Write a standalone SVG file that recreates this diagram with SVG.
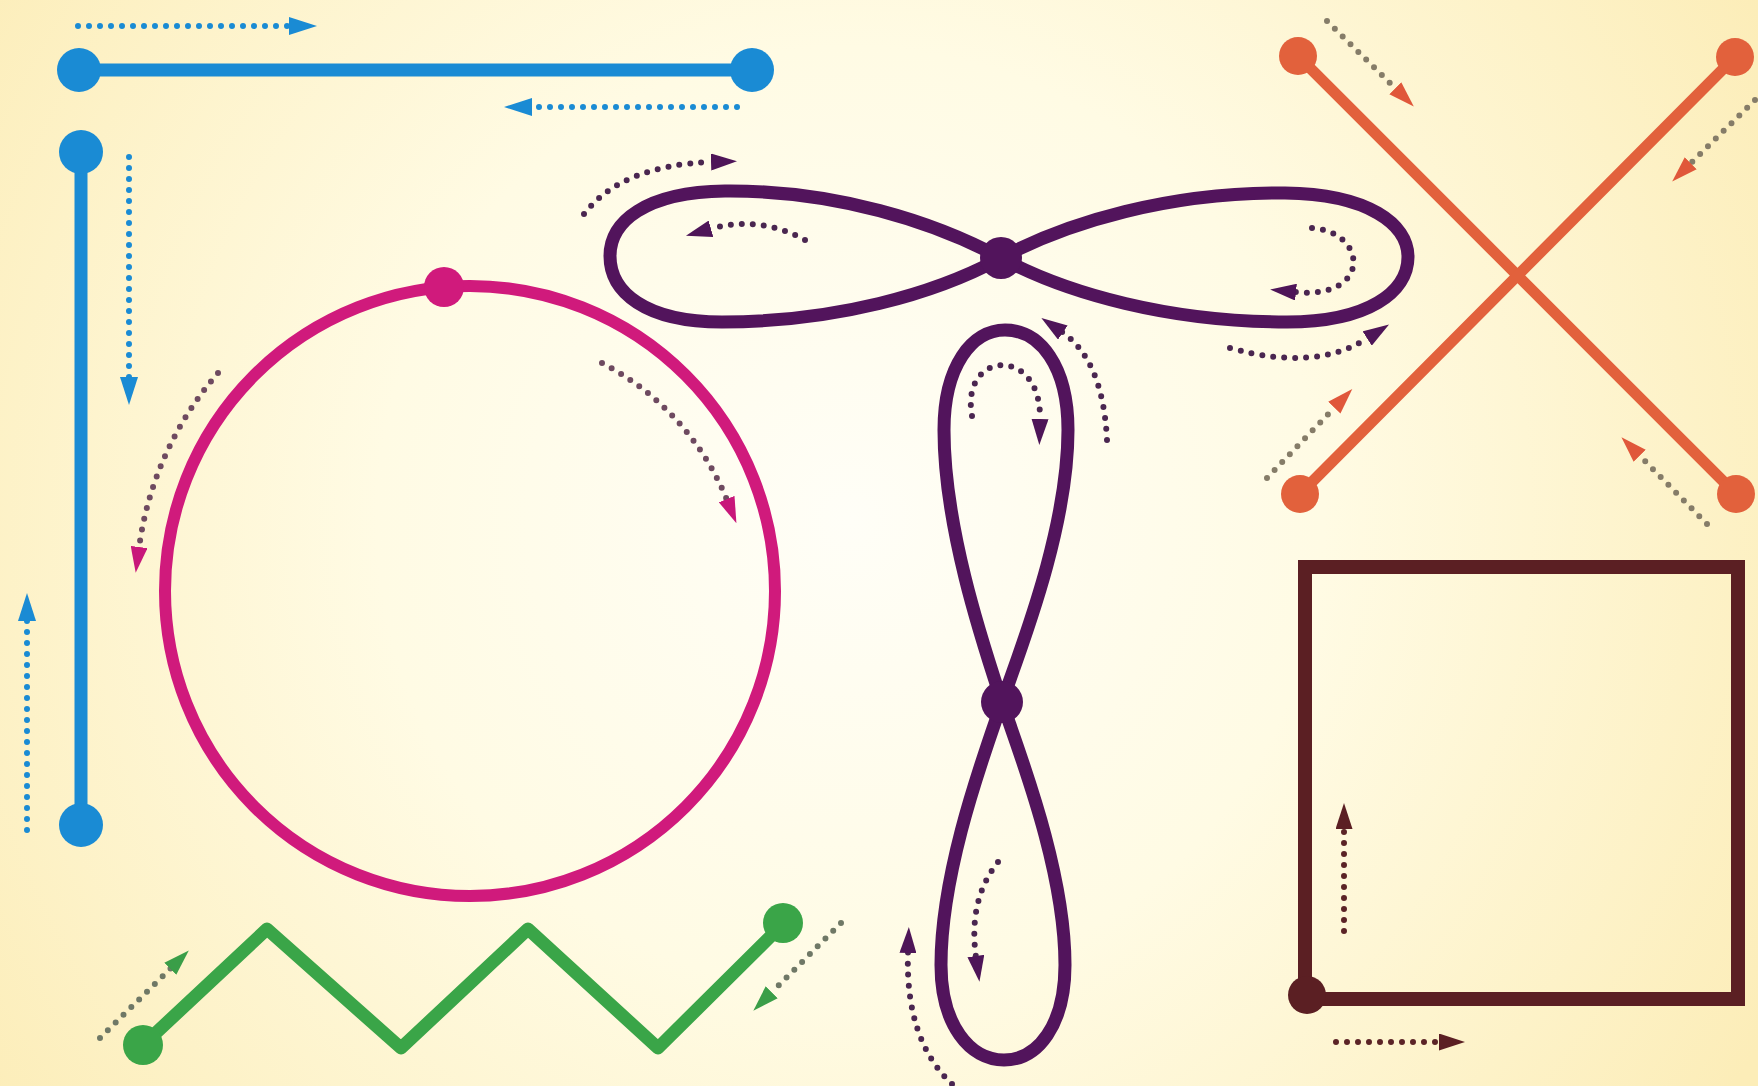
<svg xmlns="http://www.w3.org/2000/svg" width="1758" height="1086" viewBox="0 0 1758 1086">
<defs>
<radialGradient id="bg" gradientUnits="userSpaceOnUse" cx="850" cy="520" r="1050">
<stop offset="0" stop-color="#fffef7"/>
<stop offset="0.45" stop-color="#fffbe4"/>
<stop offset="1" stop-color="#fcedb8"/>
</radialGradient>
<marker id="mBlue" viewBox="0 0 28 18" refX="1" refY="9" markerWidth="28" markerHeight="18" markerUnits="userSpaceOnUse" orient="auto"><path d="M0,0 L28,9 L0,18 Z" fill="#1a8bd4"/></marker>
<marker id="mMag" viewBox="0 0 26 17" refX="1" refY="8.5" markerWidth="26" markerHeight="17" markerUnits="userSpaceOnUse" orient="auto"><path d="M0,0 L26,8.5 L0,17 Z" fill="#c8177a"/></marker>
<marker id="mPur" viewBox="0 0 26 17" refX="1" refY="8.5" markerWidth="26" markerHeight="17" markerUnits="userSpaceOnUse" orient="auto"><path d="M0,0 L26,8.5 L0,17 Z" fill="#4e1558"/></marker>
<marker id="mOra" viewBox="0 0 26 17" refX="1" refY="8.5" markerWidth="26" markerHeight="17" markerUnits="userSpaceOnUse" orient="auto"><path d="M0,0 L26,8.5 L0,17 Z" fill="#e0573a"/></marker>
<marker id="mGre" viewBox="0 0 26 17" refX="1" refY="8.5" markerWidth="26" markerHeight="17" markerUnits="userSpaceOnUse" orient="auto"><path d="M0,0 L26,8.5 L0,17 Z" fill="#3a9e48"/></marker>
<marker id="mBro" viewBox="0 0 26 17" refX="1" refY="8.5" markerWidth="26" markerHeight="17" markerUnits="userSpaceOnUse" orient="auto"><path d="M0,0 L26,8.5 L0,17 Z" fill="#5b1f23"/></marker>
</defs>
<style>
.dot{fill:none;stroke-width:6;stroke-dasharray:0 11;stroke-linecap:round}
.blue{stroke:#1a8bd4}
.mag{stroke:#6e4a60}
.pur{stroke:#4a2650}
.ora{stroke:#857c68}
.gre{stroke:#6f7866}
.bro{stroke:#5b2326}
.line{fill:none;stroke-linecap:round;stroke-linejoin:round}
</style>
<rect x="0" y="0" width="1758" height="1086" fill="url(#bg)"/>

<g id="blue-horizontal">
<line class="line" x1="79" y1="70" x2="752" y2="70" stroke="#1a8bd4" stroke-width="13"/>
<circle cx="79" cy="70" r="22" fill="#1a8bd4"/>
<circle cx="752" cy="70" r="22" fill="#1a8bd4"/>
</g>

<g id="blue-vertical">
<line class="line" x1="81" y1="152" x2="81" y2="825" stroke="#1a8bd4" stroke-width="13"/>
<circle cx="81" cy="152" r="22" fill="#1a8bd4"/>
<circle cx="81" cy="825" r="22" fill="#1a8bd4"/>
</g>

<g id="magenta-circle">
<circle cx="470" cy="591" r="305" fill="none" stroke="#d01a7c" stroke-width="12"/>
<circle cx="444" cy="287" r="20" fill="#d01a7c"/>
</g>

<g id="green-zigzag">
<polyline class="line" points="143,1045 267,929 401,1048 528,929 658,1048 783,924" stroke="#3aa548" stroke-width="13" stroke-linejoin="miter" stroke-linecap="butt"/>
<circle cx="143" cy="1045" r="20" fill="#3aa548"/>
<circle cx="783" cy="923" r="20" fill="#3aa548"/>
</g>

<g id="purple-horizontal-eight">
<path class="line" d="M1001,258 C935,222 835,190 725,191 C645,192 610,222 610,256 C610,292 645,322 722,322 C835,322 935,294 1001,258 C1068,222 1170,192 1285,193 C1368,194 1408,224 1408,257 C1408,292 1368,322 1287,322 C1170,322 1068,294 1001,258 Z" stroke="#52145c" stroke-width="13"/>
<circle cx="1001" cy="258" r="21" fill="#52145c"/>
</g>

<g id="purple-vertical-eight">
<path class="line" d="M1002,702 C985,650 944,530 944,430 C944,366 972,330 1005,330 C1040,330 1068,366 1068,430 C1068,530 1020,650 1002,702 C984,755 941,870 941,965 C941,1025 970,1060 1004,1060 C1038,1060 1065,1025 1065,965 C1065,870 1020,755 1002,702 Z" stroke="#52145c" stroke-width="13"/>
<circle cx="1002" cy="702" r="21" fill="#52145c"/>
</g>

<g id="orange-cross">
<line class="line" x1="1298" y1="56" x2="1736" y2="494" stroke="#e2613c" stroke-width="11"/>
<line class="line" x1="1735" y1="57" x2="1300" y2="494" stroke="#e2613c" stroke-width="11"/>
<circle cx="1298" cy="56" r="19" fill="#e2613c"/>
<circle cx="1735" cy="57" r="19" fill="#e2613c"/>
<circle cx="1300" cy="494" r="19" fill="#e2613c"/>
<circle cx="1736" cy="494" r="19" fill="#e2613c"/>
</g>

<g id="brown-square">
<rect x="1305" y="567" width="433" height="432" fill="none" stroke="#5b1f23" stroke-width="14"/>
<circle cx="1307" cy="995" r="19" fill="#5b1f23"/>
</g>

<g id="connectors">
<path class="dot blue" d="M78,26 L290,26" marker-end="url(#mBlue)"/>
<path class="dot blue" d="M737,107 L531,107" marker-end="url(#mBlue)"/>
<path class="dot blue" d="M129,157 L129,378" marker-end="url(#mBlue)"/>
<path class="dot blue" d="M27,830 L27,620" marker-end="url(#mBlue)"/>

<path class="dot mag" d="M218,373 A334,334 0 0 0 139,548" marker-end="url(#mMag)"/>
<path class="dot mag" d="M602,363 A268,268 0 0 1 727,500" marker-end="url(#mMag)"/>

<path class="dot pur" d="M584,214 Q622,165 712,162" marker-end="url(#mPur)"/>
<path class="dot pur" d="M805,240 Q760,215 710,229" marker-end="url(#mPur)"/>
<path class="dot pur" d="M1312,228 C1368,232 1372,300 1295,292" marker-end="url(#mPur)"/>
<path class="dot pur" d="M1230,348 Q1315,372 1368,338" marker-end="url(#mPur)"/>
<path class="dot pur" d="M1107,440 Q1103,360 1062,332" marker-end="url(#mPur)"/>
<path class="dot pur" d="M972,416 C960,350 1042,345 1040,420" marker-end="url(#mPur)"/>
<path class="dot pur" d="M998,862 Q968,900 976,957" marker-end="url(#mPur)"/>
<path class="dot pur" d="M952,1084 Q905,1040 908,952" marker-end="url(#mPur)"/>

<path class="dot ora" d="M1327,21 L1396,89" marker-end="url(#mOra)"/>
<path class="dot ora" d="M1755,100 L1690,164" marker-end="url(#mOra)"/>
<path class="dot ora" d="M1267,478 L1335,407" marker-end="url(#mOra)"/>
<path class="dot ora" d="M1707,524 L1639,455" marker-end="url(#mOra)"/>

<path class="dot gre" d="M100,1038 L171,968" marker-end="url(#mGre)"/>
<path class="dot gre" d="M841,923 L771,993" marker-end="url(#mGre)"/>

<path class="dot bro" d="M1344,931 L1344,828" marker-end="url(#mBro)"/>
<path class="dot bro" d="M1336,1042 L1440,1042" marker-end="url(#mBro)"/>
</g>
</svg>
